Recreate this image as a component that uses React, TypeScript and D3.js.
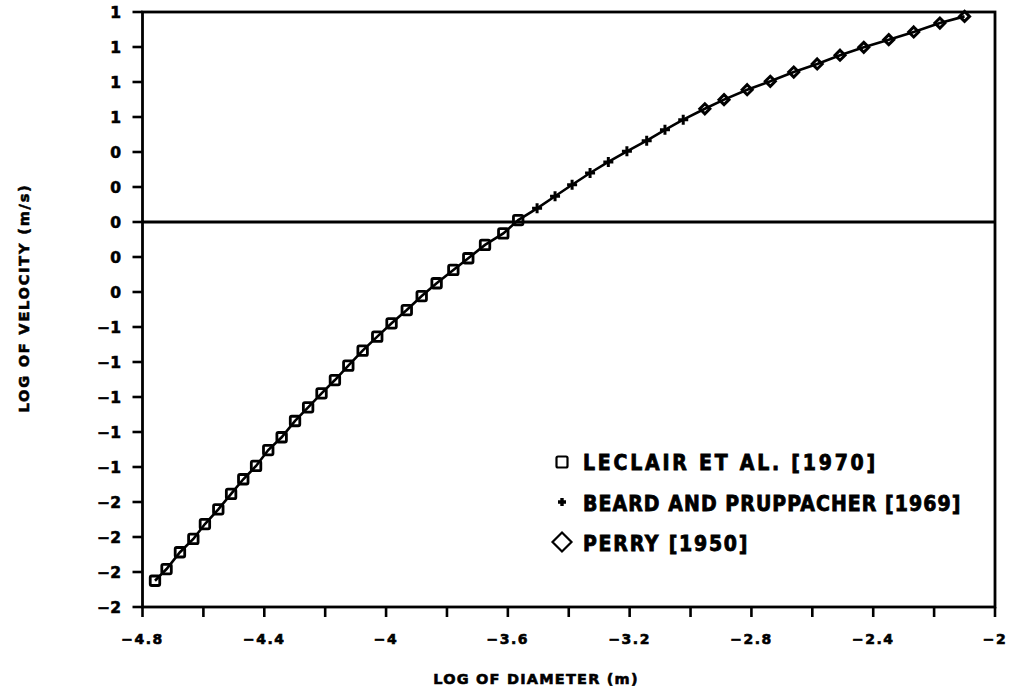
import React from "react";
import * as d3 from "d3";

// Terminal fall velocity of water drops vs. drop diameter (log10 scales)
const leclairLogD = [-4.759, -4.721, -4.677, -4.633, -4.595, -4.551, -4.509, -4.469, -4.427, -4.387, -4.343, -4.299, -4.256, -4.212, -4.168, -4.124, -4.077, -4.029, -3.982, -3.932, -3.883, -3.834, -3.779, -3.73, -3.675, -3.615, -3.566];
const leclairLogV = [-2.05, -1.983, -1.887, -1.811, -1.726, -1.642, -1.554, -1.47, -1.394, -1.303, -1.23, -1.137, -1.059, -0.979, -0.903, -0.821, -0.735, -0.655, -0.579, -0.503, -0.423, -0.35, -0.274, -0.207, -0.131, -0.065, 0.011];

const beardLogD = [-3.504, -3.445, -3.389, -3.33, -3.27, -3.209, -3.144, -3.084, -3.024];
const beardLogV = [0.078, 0.147, 0.213, 0.28, 0.343, 0.404, 0.465, 0.527, 0.585];

const perryLogD = [-2.953, -2.89, -2.814, -2.738, -2.661, -2.584, -2.509, -2.431, -2.349, -2.267, -2.181, -2.1];
const perryLogV = [0.647, 0.699, 0.756, 0.804, 0.857, 0.903, 0.953, 0.998, 1.042, 1.086, 1.137, 1.175];

const xTicks = d3.range(0, 15).map((i) => Math.round((-4.8 + i * 0.2) * 10) / 10);
const xLabelEvery = 2;
const yTicks = d3.range(0, 18).map((i) => Math.round((-2.2 + i * 0.2) * 10) / 10);

const legendLabels = ["LECLAIR ET AL. [1970]", "BEARD AND PRUPPACHER [1969]", "PERRY [1950]"];

const W = 1015;
const H = 691;
const left = 142.5;
const right = 995;
const top = 12;
const bottom = 607;

const x = d3.scaleLinear().domain([-4.8, -2]).range([left, right]);
const y = d3.scaleLinear().domain([-2.2, 1.2]).range([bottom, top]);

const fmtMinus = (s: string) => s.replace("-", "\u2212");

type Pt = { d: number; v: number };
const zip = (ds: number[], vs: number[]): Pt[] => ds.map((d, i) => ({ d, v: vs[i] }));

const leclair = zip(leclairLogD, leclairLogV);
const beard = zip(beardLogD, beardLogV);
const perry = zip(perryLogD, perryLogV);
const allPts = [...leclair, ...beard, ...perry].sort((a, b) => a.d - b.d);

const line = d3
  .line<Pt>()
  .x((p) => x(p.d))
  .y((p) => y(p.v));

const ink = "#000";

function Square({ cx, cy, s, sw }: { cx: number; cy: number; s: number; sw: number }) {
  return <rect x={cx - s / 2} y={cy - s / 2} width={s} height={s} fill="none" stroke={ink} strokeWidth={sw} rx={1.5} />;
}
function Plus({ cx, cy, s, sw }: { cx: number; cy: number; s: number; sw: number }) {
  return (
    <path d={`M${cx - s / 2},${cy}H${cx + s / 2}M${cx},${cy - s / 2}V${cy + s / 2}`} stroke={ink} strokeWidth={sw} fill="none" />
  );
}
function Diamond({ cx, cy, s, sw }: { cx: number; cy: number; s: number; sw: number }) {
  const h = s / 2;
  return (
    <path d={`M${cx},${cy - h}L${cx + h},${cy}L${cx},${cy + h}L${cx - h},${cy}Z`} stroke={ink} strokeWidth={sw} fill="none" />
  );
}

export default function App() {
  const labelFont = "'DejaVu Sans', 'Liberation Sans', sans-serif";
  const legendFont = "'DejaVu Sans Condensed', 'Liberation Sans Narrow', 'DejaVu Sans', sans-serif";
  const legendX = 583;
  const legendBase = [470, 511, 551];
  // 14.2px per character, like a fixed-pitch plotter font
  const legendPitch = 14.2;
  const bold = { fontWeight: 700, stroke: ink, strokeWidth: 0.6 } as const;
  return (
    <svg
      width={W}
      height={H}
      viewBox={`0 0 ${W} ${H}`}
      style={{ position: "absolute", left: 0, top: 0, background: "#fff" }}
    >
      <rect x={0} y={0} width={W} height={H} fill="#fff" />

      {/* frame */}
      <rect x={left} y={top} width={right - left} height={bottom - top} fill="none" stroke={ink} strokeWidth={2.8} />
      {/* zero line */}
      <line x1={left} x2={right} y1={y(0)} y2={y(0)} stroke={ink} strokeWidth={2.8} />

      {/* y ticks */}
      {yTicks.map((t) => (
        <g key={`y${t}`}>
          <line x1={left - 10} x2={left} y1={y(t)} y2={y(t)} stroke={ink} strokeWidth={2.6} />
          <text
            x={121}
            y={y(t)}
            dy="0.36em"
            textAnchor="end"
            fontFamily={labelFont}
            fontSize={15.5}
            {...bold}
          >
            {fmtMinus(String(Math.round(t) === 0 ? 0 : Math.round(t)))}
          </text>
        </g>
      ))}

      {/* x ticks */}
      {xTicks.map((t, i) => (
        <g key={`x${t}`}>
          <line x1={x(t)} x2={x(t)} y1={bottom} y2={bottom + 10} stroke={ink} strokeWidth={2.6} />
          {i % xLabelEvery === 0 && (
            <text
              x={x(t)}
              y={644}
              textAnchor="middle"
              fontFamily={labelFont}
              fontSize={14}
              letterSpacing={1.5}
              {...bold}
            >
              {fmtMinus(String(t))}
            </text>
          )}
        </g>
      ))}

      {/* axis titles */}
      <text
        x={536}
        y={684}
        textAnchor="middle"
        fontFamily={labelFont}
        fontSize={14.5}
        letterSpacing={1.2}
        {...bold}
      >
        LOG OF DIAMETER (m)
      </text>
      <text
        transform={`translate(29,298) rotate(-90)`}
        textAnchor="middle"
        fontFamily={labelFont}
        fontSize={14.5}
        letterSpacing={1.8}
        {...bold}
      >
        LOG OF VELOCITY (m/s)
      </text>

      {/* curve */}
      <path d={line(allPts) ?? ""} fill="none" stroke={ink} strokeWidth={2.6} />

      {leclair.map((p, i) => (
        <Square key={`s${i}`} cx={x(p.d)} cy={y(p.v)} s={9.5} sw={2.8} />
      ))}
      {beard.map((p, i) => (
        <Plus key={`p${i}`} cx={x(p.d)} cy={y(p.v)} s={10} sw={3} />
      ))}
      {perry.map((p, i) => (
        <Diamond key={`d${i}`} cx={x(p.d)} cy={y(p.v)} s={10} sw={3} />
      ))}

      {/* legend */}
      <Square cx={562} cy={462} s={11} sw={2.2} />
      <Plus cx={562} cy={502} s={8} sw={3.4} />
      <Diamond cx={562} cy={542} s={19} sw={2.2} />
      {legendLabels.map((lab, i) => (
        <text
          key={lab}
          x={legendX}
          y={legendBase[i]}
          fontFamily={legendFont}
          fontStretch="condensed"
          fontWeight={700}
          fontSize={21}
          textLength={lab.length * legendPitch - 6}
          lengthAdjust="spacing"
          stroke={ink}
          strokeWidth={0.8}
        >
          {lab}
        </text>
      ))}
    </svg>
  );
}
